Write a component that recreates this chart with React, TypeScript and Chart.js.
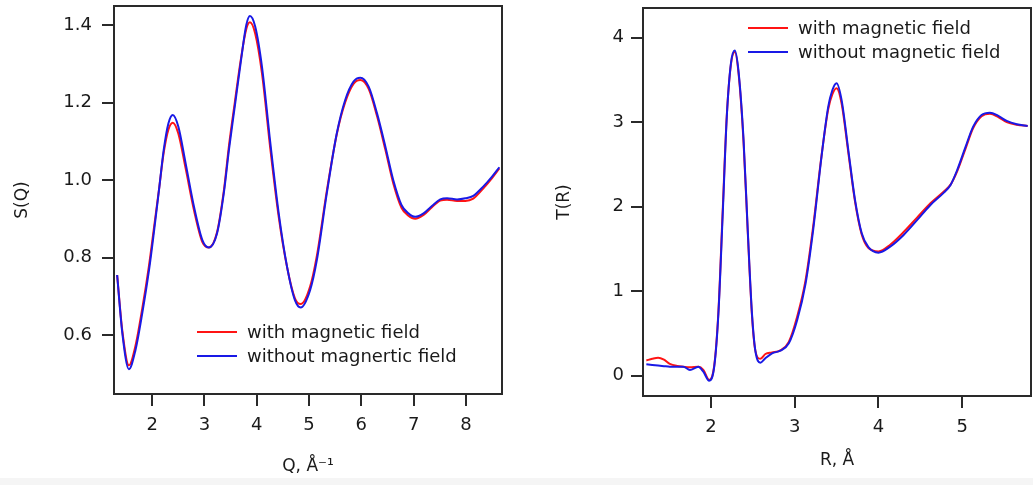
import React, { useEffect, useRef } from "react";
import { Chart, registerables } from "chart.js";

Chart.register(...registerables);

// ---------- Left panel: S(Q) ----------
const qValues = [1.33, 1.43, 1.555, 1.68, 1.81, 1.94, 2.03, 2.13, 2.22, 2.31, 2.395, 2.50, 2.64, 2.80, 2.96, 3.085, 3.24, 3.37, 3.47, 3.58, 3.70, 3.80, 3.87, 3.97, 4.10, 4.26, 4.42, 4.58, 4.73, 4.84, 5.02, 5.15, 5.34, 5.53, 5.69, 5.85, 5.98, 6.14, 6.30, 6.46, 6.61, 6.77, 6.90, 7.03, 7.19, 7.35, 7.51, 7.64, 7.83, 7.99, 8.14, 8.33, 8.50, 8.64];
const sqWithField = [0.755, 0.61, 0.522, 0.572, 0.668, 0.78, 0.872, 0.975, 1.07, 1.13, 1.148, 1.12, 1.03, 0.922, 0.84, 0.826, 0.865, 0.972, 1.09, 1.20, 1.315, 1.39, 1.407, 1.378, 1.275, 1.08, 0.905, 0.775, 0.695, 0.680, 0.725, 0.805, 0.972, 1.118, 1.200, 1.248, 1.258, 1.235, 1.165, 1.078, 0.992, 0.928, 0.908, 0.900, 0.910, 0.930, 0.947, 0.949, 0.946, 0.946, 0.952, 0.978, 1.005, 1.030];
const sqWithoutField = [0.755, 0.604, 0.512, 0.561, 0.656, 0.768, 0.862, 0.974, 1.077, 1.146, 1.168, 1.138, 1.043, 0.931, 0.845, 0.826, 0.862, 0.966, 1.08, 1.19, 1.31, 1.40, 1.423, 1.396, 1.292, 1.095, 0.914, 0.776, 0.690, 0.671, 0.716, 0.794, 0.966, 1.120, 1.206, 1.254, 1.264, 1.241, 1.172, 1.086, 1.000, 0.935, 0.914, 0.905, 0.914, 0.933, 0.950, 0.953, 0.950, 0.953, 0.959, 0.983, 1.009, 1.033];
const leftLabels = ["with magnetic field", "without magnertic field"];

// ---------- Right panel: T(R) ----------
const rValues = [1.23, 1.30, 1.37, 1.44, 1.51, 1.60, 1.67, 1.75, 1.85, 1.91, 1.98, 2.04, 2.09, 2.14, 2.19, 2.24, 2.285, 2.33, 2.39, 2.44, 2.49, 2.53, 2.59, 2.65, 2.73, 2.83, 2.93, 3.03, 3.13, 3.22, 3.32, 3.40, 3.45, 3.50, 3.56, 3.64, 3.72, 3.80, 3.88, 4.00, 4.14, 4.30, 4.46, 4.62, 4.78, 4.86, 4.94, 5.04, 5.13, 5.23, 5.33, 5.43, 5.53, 5.65, 5.78];
const trWithField = [0.18, 0.20, 0.213, 0.19, 0.14, 0.115, 0.107, 0.10, 0.107, 0.07, -0.05, 0.12, 0.76, 1.93, 3.08, 3.69, 3.83, 3.58, 2.76, 1.70, 0.72, 0.30, 0.20, 0.257, 0.275, 0.30, 0.40, 0.70, 1.13, 1.76, 2.60, 3.15, 3.33, 3.40, 3.22, 2.64, 2.06, 1.67, 1.51, 1.47, 1.55, 1.70, 1.87, 2.04, 2.18, 2.26, 2.42, 2.69, 2.93, 3.07, 3.10, 3.06, 3.00, 2.97, 2.955];
const trWithoutField = [0.135, 0.128, 0.12, 0.113, 0.107, 0.107, 0.107, 0.068, 0.107, 0.047, -0.06, 0.107, 0.738, 1.88, 3.065, 3.70, 3.846, 3.60, 2.79, 1.72, 0.74, 0.30, 0.154, 0.206, 0.265, 0.296, 0.384, 0.66, 1.09, 1.72, 2.59, 3.18, 3.38, 3.46, 3.26, 2.67, 2.08, 1.685, 1.52, 1.456, 1.527, 1.665, 1.84, 2.02, 2.166, 2.257, 2.435, 2.71, 2.947, 3.085, 3.112, 3.073, 3.014, 2.975, 2.955];
const rightLabels = ["with magnetic field", "without magnetic field"];

const FONT = '"DejaVu Sans", Verdana, sans-serif';
const TEXT = "#1a1a1a";
const RED = "rgb(255,20,20)";
const BLUE = "rgb(25,25,230)";

const framePlugin = {
  id: "frame",
  afterDatasetsDraw(chart: any, _args: any, opts: any) {
    const { ctx, chartArea: a } = chart;
    ctx.save();
    ctx.strokeStyle = "#2a2a2a";
    ctx.lineWidth = 2;
    ctx.strokeRect(a.left, a.top, a.right - a.left, a.bottom - a.top);
    ctx.font = `18px ${FONT}`;
    ctx.textBaseline = "middle";
    ctx.textAlign = "left";
    chart.data.datasets.forEach((ds: any, i: number) => {
      const y = a.top + opts.y + i * opts.gap;
      const x0 = a.left + opts.x;
      ctx.strokeStyle = ds.borderColor;
      ctx.lineWidth = 2;
      ctx.beginPath();
      ctx.moveTo(x0, y);
      ctx.lineTo(x0 + 40, y);
      ctx.stroke();
      ctx.fillStyle = TEXT;
      ctx.fillText(ds.label, x0 + 50, y + 1);
    });
    ctx.restore();
  },
};

const zeroPad = (s: any) => {
  s.paddingTop = 0;
  s.paddingBottom = 0;
  s.paddingLeft = 0;
  s.paddingRight = 0;
};

type PanelProps = {
  xs: number[];
  ys: number[][];
  labels: string[];
  xMin: number; xMax: number; yMin: number; yMax: number;
  yStep: number; yDecimals: number;
  xTitle: string; yTitle: string;
  yWidth: number; xHeight: number;
  pad: { left: number; right: number; top: number; bottom: number };
  yTitlePad: number; xTitlePad: number; yTickPad: number;
  legend: { x: number; y: number; gap: number };
};

function Panel(p: PanelProps) {
  const ref = useRef<HTMLCanvasElement | null>(null);
  useEffect(() => {
    if (!ref.current) return;
    const colors = [RED, BLUE];
    const chart = new Chart(ref.current, {
      type: "line",
      data: {
        datasets: p.ys.map((vals, i) => ({
          label: p.labels[i],
          data: p.xs.map((x, j) => ({ x, y: vals[j] })),
          borderColor: colors[i],
          borderWidth: 2,
          pointRadius: 0,
          fill: false,
          cubicInterpolationMode: "monotone" as const,
          order: i === 0 ? 1 : 0,
        })),
      },
      options: {
        animation: false,
        responsive: true,
        maintainAspectRatio: false,
        layout: { padding: p.pad },
        plugins: {
          legend: { display: false },
          tooltip: { enabled: false },
          frame: p.legend,
        } as any,
        scales: {
          x: {
            type: "linear",
            min: p.xMin,
            max: p.xMax,
            afterFit: (s: any) => { s.height = p.xHeight; zeroPad(s); },
            border: { display: false },
            grid: { drawOnChartArea: false, drawTicks: true, tickLength: 12, color: "#2a2a2a", lineWidth: 2 },
            ticks: {
              stepSize: 1,
              includeBounds: false,
              padding: 9,
              color: TEXT,
              font: { family: FONT, size: 18 },
              maxRotation: 0,
              callback: (v: any) => String(v),
            },
            title: {
              display: true,
              text: p.xTitle,
              color: TEXT,
              font: { family: FONT, size: 17 },
              padding: { top: 0, bottom: p.xTitlePad },
            },
          },
          y: {
            type: "linear",
            min: p.yMin,
            max: p.yMax,
            afterFit: (s: any) => { s.width = p.yWidth; zeroPad(s); },
            border: { display: false },
            grid: { drawOnChartArea: false, drawTicks: true, tickLength: 12, color: "#2a2a2a", lineWidth: 2 },
            ticks: {
              stepSize: p.yStep,
              includeBounds: false,
              padding: p.yTickPad,
              color: TEXT,
              font: { family: FONT, size: 18 },
              callback: (v: any) => Number(v).toFixed(p.yDecimals),
            },
            title: {
              display: true,
              text: p.yTitle,
              color: TEXT,
              font: { family: FONT, size: 17 },
              padding: { top: p.yTitlePad, bottom: 0 },
            },
          },
        },
      },
      plugins: [framePlugin as any],
    });
    return () => chart.destroy();
  }, []);
  return <canvas ref={ref} />;
}

export default function App() {
  return (
    <div style={{ position: "absolute", left: 0, top: 0, width: 1033, height: 485, background: "#fff", overflow: "hidden" }}>
      <div style={{ position: "absolute", left: 0, top: 0, width: 520, height: 485 }}>
        <Panel
          xs={qValues}
          ys={[sqWithField, sqWithoutField]}
          labels={leftLabels}
          xMin={1.27} xMax={8.69} yMin={0.448} yMax={1.449}
          yStep={0.2} yDecimals={1}
          xTitle={"Q, \u00C5\u207B\u00B9"} yTitle="S(Q)"
          yWidth={114} xHeight={91}
          pad={{ left: 0, right: 18, top: 6, bottom: 0 }}
          yTitlePad={12} xTitlePad={8} yTickPad={10}
          legend={{ x: 83, y: 326, gap: 24 }}
        />
      </div>
      <div style={{ position: "absolute", left: 520, top: 0, width: 513, height: 485 }}>
        <Panel
          xs={rValues}
          ys={[trWithField, trWithoutField]}
          labels={rightLabels}
          xMin={1.19} xMax={5.82} yMin={-0.24} yMax={4.35}
          yStep={1} yDecimals={0}
          xTitle={"R, \u00C5"} yTitle="T(R)"
          yWidth={123} xHeight={89}
          pad={{ left: 0, right: 2, top: 8, bottom: 0 }}
          yTitlePad={34} xTitlePad={14} yTickPad={7}
          legend={{ x: 105, y: 20, gap: 24 }}
        />
      </div>
      <div style={{ position: "absolute", left: 0, top: 478, width: 1033, height: 7, background: "#f5f5f5" }} />
    </div>
  );
}
